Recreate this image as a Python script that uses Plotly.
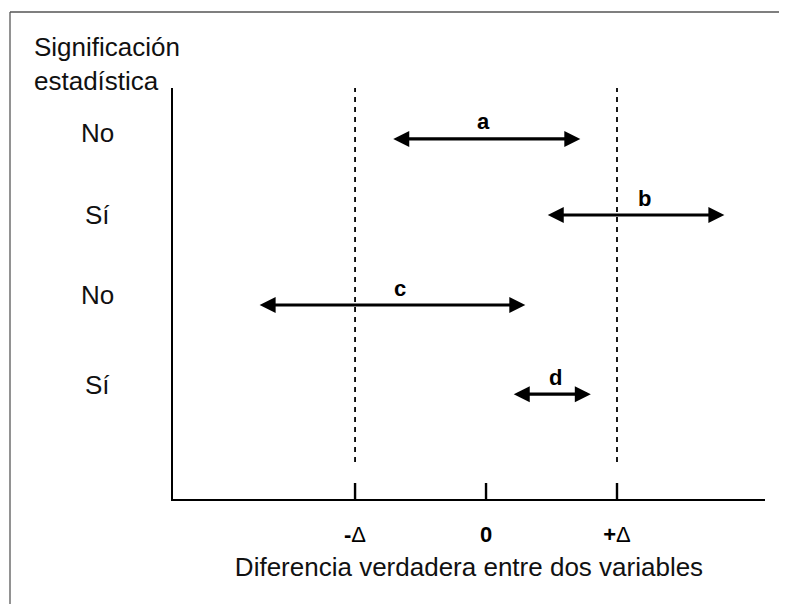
import plotly.graph_objects as go

# ---- data ----
tick_vals = [-1, 0, 1]
tick_text = ["<b>-</b>Δ", "<b>0</b>", "<b>+</b>Δ"]
arrow_labels = ["a", "b", "c", "d"]
arrow_start = [-0.72, 0.46, -1.74, 0.20]
arrow_end = [0.72, 1.82, 0.30, 0.80]
label_x = [-0.02, 1.21, -0.66, 0.53]
row_y = [8.76, 6.91, 4.72, 2.55]
significance = ["No", "Sí", "No", "Sí"]
significance_y = [8.9, 6.91, 4.96, 2.77]
delta_lines = [-1, 1]

# the page body has an 8px margin, so everything is laid out 8px up/left
OFF = 8
W, H = 787 - OFF, 604 - OFF
L, R, T, B = 173 - OFF, 22, 88 - OFF, 105
FONT = "Liberation Sans, Arial, sans-serif"
pw, ph = W - L - R, H - T - B

def px(xpix):
    return (xpix - OFF - L) / pw

def py(ypix):
    return (H - B - (ypix - OFF)) / ph

fig = go.Figure()
fig.add_trace(go.Scatter(x=[-2.39, 2.13], y=[0, 10], mode="markers",
                         marker=dict(opacity=0), hoverinfo="skip", showlegend=False))

annotations = []
for lab, x0, x1, lx, y in zip(arrow_labels, arrow_start, arrow_end, label_x, row_y):
    annotations.append(dict(x=x1, y=y, ax=x0, ay=y, xref="x", yref="y",
                            axref="x", ayref="y", text="", showarrow=True,
                            arrowhead=2, startarrowhead=2, arrowside="end+start",
                            arrowsize=1.0, startarrowsize=1.0, arrowwidth=3.2, arrowcolor="black"))
    annotations.append(dict(x=lx, y=y, xref="x", yref="y", text=f"<b>{lab}</b>",
                            showarrow=False, yanchor="middle", yshift=17,
                            font=dict(family=FONT, size=22, color="black")))

for s, y in zip(significance, significance_y):
    annotations.append(dict(x=px(97), y=y, xref="paper", yref="y", text=s,
                            showarrow=False, xanchor="center", yanchor="middle",
                            font=dict(family=FONT, size=26, color="#111")))

annotations.append(dict(x=px(32), y=py(64),
                        xref="paper", yref="paper",
                        text="Significación<br>estadística", showarrow=False,
                        xanchor="left", yanchor="middle", align="left",
                        font=dict(family=FONT, size=26, color="#111")))

shapes = []
for xv in delta_lines:
    shapes.append(dict(type="line", xref="x", yref="y", x0=xv, x1=xv, y0=0.9, y1=10,
                       line=dict(color="black", width=1.8, dash="5px,5px")))
for xv in tick_vals:
    shapes.append(dict(type="line", xref="x", yref="y", ysizemode="pixel", yanchor=0,
                       x0=xv, x1=xv, y0=-14, y1=16, line=dict(color="black", width=2.4)))

# outer frame (top and left edges)
shapes.append(dict(type="line", xref="paper", yref="paper", x0=px(10), x1=px(10),
                   y0=py(604 + 20), y1=py(12), line=dict(color="#777", width=1.6)))
shapes.append(dict(type="line", xref="paper", yref="paper", x0=px(10), x1=px(800),
                   y0=py(12), y1=py(12), line=dict(color="#555", width=1.6)))

fig.update_layout(
    width=W, height=H,
    margin=dict(l=L, r=R, t=T, b=B),
    paper_bgcolor="white", plot_bgcolor="white",
    showlegend=False,
    annotations=annotations,
    shapes=shapes,
    xaxis=dict(range=[-2.39, 2.13], showgrid=False, zeroline=False, showline=True,
               linecolor="black", linewidth=2.2, tickvals=tick_vals, ticktext=tick_text,
               ticks="", ticklabelstandoff=14,
               tickfont=dict(family=FONT, size=22, color="black"),
               title=dict(text="Diferencia verdadera entre dos variables", standoff=12,
                          font=dict(family=FONT, size=26, color="#111")),
               fixedrange=True),
    yaxis=dict(range=[0, 10], showgrid=False, zeroline=False, showline=True,
               linecolor="black", linewidth=2.2, showticklabels=False, ticks="",
               fixedrange=True),
)

fig.write_html("out.html")
